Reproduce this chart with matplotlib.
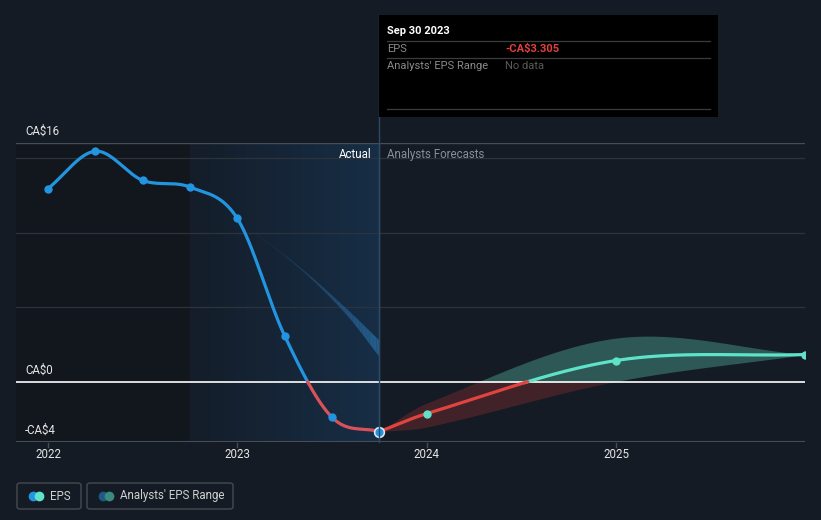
import numpy as np
import matplotlib
matplotlib.use("Agg")
import matplotlib.pyplot as plt
from matplotlib.patches import FancyBboxPatch, Rectangle, Circle

plt.rcParams['font.family'] = ['Roboto', 'DejaVu Sans']

# ---------------- data ----------------
actual_x = [2022.0, 2022.25, 2022.5, 2022.75, 2023.0, 2023.25, 2023.5, 2023.75]
actual_eps = [12.95, 15.45, 13.5, 13.05, 10.95, 3.1, -2.35, -3.305]

fc_x = [2023.75, 2024.0, 2025.0, 2026.0]
fc_eps = [-3.305, -2.1, 1.45, 1.85]
fc_upper = [-3.305, -1.4, 2.95, 1.85]
fc_lower = [-3.305, -3.0, 0.05, 1.85]

past_fc_x = [2023.0, 2023.33, 2023.57, 2023.75]
past_fc_upper = [10.9, 7.7, 5.0, 2.8]
past_fc_lower = [10.9, 7.6, 4.6, 1.7]

y_ticks = [16, 0, -4]
y_tick_labels = ["CA$16", "CA$0", "-CA$4"]
x_ticks = [2022, 2023, 2024, 2025]
x_tick_labels = ["2022", "2023", "2024", "2025"]
grid_vals = [15, 10, 5]

# ---------------- helpers ----------------
def catmull(xs, ys, n=60):
    xs = np.asarray(xs, float); ys = np.asarray(ys, float)
    px = np.concatenate([[2*xs[0]-xs[1]], xs, [2*xs[-1]-xs[-2]]])
    py = np.concatenate([[2*ys[0]-ys[1]], ys, [2*ys[-1]-ys[-2]]])
    outx, outy = [], []
    for i in range(1, len(px)-2):
        t = np.linspace(0, 1, n, endpoint=False)
        h00 = 2*t**3 - 3*t**2 + 1; h10 = t**3 - 2*t**2 + t
        h01 = -2*t**3 + 3*t**2; h11 = t**3 - t**2
        dx = px[i+1]-px[i]
        m0 = (py[i+1]-py[i-1])/(px[i+1]-px[i-1])*dx
        m1 = (py[i+2]-py[i])/(px[i+2]-px[i])*dx
        outx.append(px[i] + t*dx)
        outy.append(h00*py[i] + h10*m0 + h01*py[i+1] + h11*m1)
    outx.append([xs[-1]]); outy.append([ys[-1]])
    return np.concatenate(outx), np.concatenate(outy)

BG = "#151b24"
W, H = 821, 520
fig = plt.figure(figsize=(W/100, H/100), dpi=100, facecolor=BG)

x0px, x1px = 16, 805
ytop, ybot = 143, 442
ax = fig.add_axes([x0px/W, 1-ybot/H, (x1px-x0px)/W, (ybot-ytop)/H])
ax.set_facecolor(BG)
px_per_year = (616-48)/3.0
xmin = 2022 - (48-x0px)/px_per_year
xmax = 2022 + (x1px-48)/px_per_year
ax.set_xlim(xmin, xmax)
ax.set_ylim(-4, 16)
for s in ax.spines.values():
    s.set_visible(False)
ax.set_xticks([]); ax.set_yticks([])

def xpx(xv):
    return 48 + (xv-2022)*px_per_year

# shaded regions
x_split = 2022.75
x_now = 2023.75
ax.add_patch(Rectangle((xmin, -4), x_split-xmin, 20, color="#12161d", zorder=0, lw=0))
grad = np.linspace(0, 1, 256).reshape(1, -1)
from matplotlib.colors import LinearSegmentedColormap
cm = LinearSegmentedColormap.from_list("g", ["#141d29", "#172e46"])
ax.imshow(grad, extent=[x_split, x_now, -4, 16], aspect="auto", cmap=cm, zorder=0.5)
ax.set_xlim(xmin, xmax); ax.set_ylim(-4, 16)

# grid
for g in grid_vals:
    ax.axhline(g, color="#2c333d", lw=0.9, zorder=1)
ax.axhline(16, color="#474d56", lw=1.0, zorder=1)
ax.axhline(-4, color="#474d56", lw=1.5, zorder=1)
ax.axhline(0, color="#ffffff", lw=1.2, zorder=3)

# past forecast band
bx, bu = catmull(past_fc_x, past_fc_upper)
_, bl = catmull(past_fc_x, past_fc_lower)
nseg = 30
idx = np.linspace(0, len(bx)-1, nseg+1).astype(int)
for k in range(nseg):
    a, b = idx[k], idx[k+1]+1
    ax.fill_between(bx[a:b], bl[a:b], bu[a:b], color="#2a6da6",
                    alpha=0.15 + 0.6*k/nseg, lw=0, zorder=2)

# forecast range
rx, ru = catmull(fc_x, fc_upper)
_, rl = catmull(fc_x, fc_lower)
ax.fill_between(rx, np.maximum(rl, 0), np.maximum(ru, 0), color="#2f5c59", alpha=0.95, lw=0, zorder=2)
ax.fill_between(rx, np.minimum(rl, 0), np.minimum(ru, 0), color="#4a2429", alpha=0.85, lw=0, zorder=2)

# lines split by sign
def plot_split(xs, ys, pos_color, neg_color):
    sx, sy = catmull(xs, ys)
    pos = np.where(sy >= 0, sy, np.nan)
    neg = np.where(sy < 0, sy, np.nan)
    # extend to connect
    for i in range(1, len(sy)):
        if (sy[i] >= 0) != (sy[i-1] >= 0):
            pos[i-1] = sy[i-1] if np.isnan(pos[i-1]) else pos[i-1]
            pos[i] = sy[i] if np.isnan(pos[i]) else pos[i]
            neg[i-1] = sy[i-1] if np.isnan(neg[i-1]) else neg[i-1]
            neg[i] = sy[i] if np.isnan(neg[i]) else neg[i]
    ax.plot(sx, pos, color=pos_color, lw=2.3, zorder=4, solid_capstyle="round")
    ax.plot(sx, neg, color=neg_color, lw=2.3, zorder=4, solid_capstyle="round")

plot_split(actual_x, actual_eps, "#2394df", "#d9525a")
plot_split(fc_x, fc_eps, "#5ee3c9", "#e0443e")

ax.plot(actual_x[:-1], actual_eps[:-1], "o", color="#2394df", ms=6, zorder=5, mec="none")
ax.plot(actual_x[-1], actual_eps[-1], "o", color="#2394df", ms=7, zorder=6, mec="#d8e8f5", mew=1.2)
ax.plot(fc_x[1:], fc_eps[1:], "o", color="#5ee3c9", ms=6, zorder=5, mec="none")

# vertical line at now
ax.axvline(x_now, color="#2a4a66", lw=1, zorder=1.5)
fig.add_artist(plt.Line2D([xpx(x_now)/W]*2, [1-ybot/H, 1-15/H], color="#2a4a66", lw=1))

# labels
ax.text(x_now - 8/px_per_year, 15.2, "Actual", color="#ffffff", fontsize=8.3, ha="right", va="center", zorder=7)
ax.text(x_now + 8/px_per_year, 15.2, "Analysts Forecasts", color="#8a8f96", fontsize=8.3, ha="left", va="center", zorder=7)

ylab_y = {16: 131, 0: 370, -4: 430}
for v, lab in zip(y_ticks, y_tick_labels):
    fig.text(25/W, 1-ylab_y[v]/H, lab, color="#e6e6e6", fontsize=8.3, ha="left", va="center")
for v, lab in zip(x_ticks, x_tick_labels):
    fig.text(xpx(v)/W, 1-455/H, lab, color="#e6e6e6", fontsize=8.3, ha="center", va="center")
    fig.add_artist(plt.Line2D([xpx(v)/W]*2, [1-443/H, 1-447/H], color="#474d56", lw=1))

# tooltip
tt = Rectangle((379/W, 1-117/H), (718-379)/W, (117-15)/H, transform=fig.transFigure,
               facecolor="#000000", edgecolor="none", zorder=10)
fig.add_artist(tt)
def tline(y):
    fig.add_artist(plt.Line2D([387/W, 710/W], [1-y/H]*2, color="#3c3c3c", lw=0.9, zorder=11))
tline(41); tline(58); tline(109)
fig.text(387/W, 1-31/H, "Sep 30 2023", color="#ffffff", fontsize=8, fontweight="bold", va="center", zorder=12)
fig.text(387/W, 1-49/H, "EPS", color="#8a8a8a", fontsize=8, va="center", zorder=12)
fig.text(505/W, 1-49/H, "-CA$3.305", color="#e0403e", fontsize=8, fontweight="bold", va="center", zorder=12)
fig.text(387/W, 1-66/H, "Analysts' EPS Range", color="#8a8a8a", fontsize=8, va="center", zorder=12)
fig.text(505/W, 1-66/H, "No data", color="#5a5a5a", fontsize=8, va="center", zorder=12)

# legend
def legbox(x0, x1, c1, c2, label):
    box = FancyBboxPatch((x0/W, 1-509/H), (x1-x0)/W, 26/H, boxstyle="round,pad=0,rounding_size=0.004",
                         transform=fig.transFigure, facecolor="none", edgecolor="#454a52", lw=1)
    fig.add_artist(box)
    fig.add_artist(plt.Line2D([(x0+16)/W], [1-496/H], marker="o", ms=7, color=c1, mec="none"))
    fig.add_artist(plt.Line2D([(x0+22)/W], [1-496/H], marker="o", ms=7, color=c2, mec="none"))
    fig.text((x0+33)/W, 1-496/H, label, color="#d0d0d0", fontsize=8.3, va="center")

legbox(17, 81, "#2394df", "#5ee3c9", "EPS")
legbox(87, 233, "#1f5a86", "#3b8a80", "Analysts' EPS Range")

fig.savefig("out.png", dpi=100, facecolor=BG)
